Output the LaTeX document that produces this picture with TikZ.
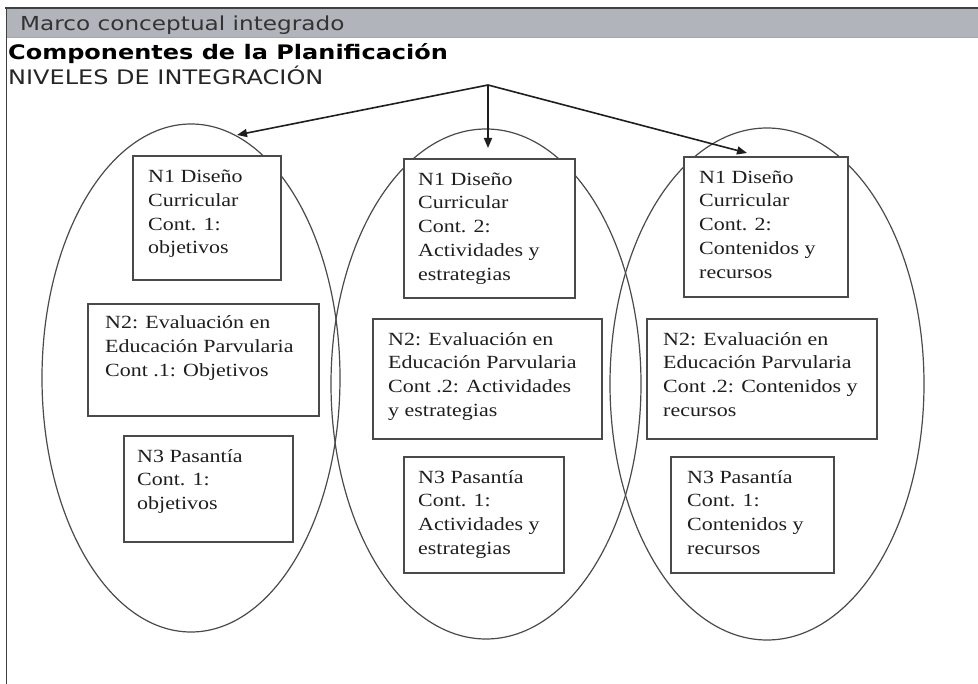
\documentclass[tikz,border=0pt]{standalone}
\usepackage{fontspec}
\setmainfont{Liberation Serif}
\newfontfamily\boxfont[FakeStretch=1.18]{Liberation Serif}
\newfontfamily\hdrfont[FakeStretch=1.2]{DejaVu Sans}
\usetikzlibrary{shapes.geometric,arrows.meta}
\definecolor{hdrgrey}{HTML}{B1B5BB}
\definecolor{inkdark}{HTML}{1E1E1E}
\definecolor{linegrey}{HTML}{4A4A4A}
\tikzset{
  oval/.style={ellipse, draw=linegrey, line width=1.2pt, inner sep=0pt},
  boxnode/.style={rectangle, draw=linegrey, fill=white, line width=1.6pt, inner sep=0pt, anchor=north west},
  txt/.style={anchor=north west, inner sep=0pt, align=left, text=inkdark,
    font=\boxfont\fontsize{18.6}{23.7}\selectfont},
  link/.style={draw=inkdark, line width=1.6pt, -{Triangle[length=10pt,width=8pt]}},
}
\begin{document}
\begin{tikzpicture}[x=1pt,y=-1pt]
\useasboundingbox (0,0) rectangle (978,684);
% header
\fill[hdrgrey] (6,9) rectangle (978,37);
\draw[line width=0.8pt, gray!70] (6,37) -- (978,37);
\draw[line width=2pt, black!75] (5,8.5) -- (978,8.5);
\draw[line width=1.6pt, black!75] (6.5,8) -- (6.5,684);
\node[anchor=base west, inner sep=0pt, text=black!80, font=\hdrfont\fontsize{19.3}{22}\selectfont] (hdr) at (20,31) {Marco conceptual integrado};
\node[anchor=base west, inner sep=0pt, text=black, font=\hdrfont\bfseries\fontsize{20}{23}\selectfont] (ttl) at (8,60) {Componentes de la Planificación};
\node[anchor=base west, inner sep=0pt, text=black!85, font=\hdrfont\fontsize{20}{23}\selectfont] (niv) at (8,85) {NIVELES DE INTEGRACIÓN};
% ellipses
\node[oval, minimum width=298pt, minimum height=508pt] (e1) at (191,378) {};
\node[oval, minimum width=310pt, minimum height=510pt] (e2) at (486,384) {};
\node[oval, minimum width=314pt, minimum height=512pt] (e3) at (767,384) {};
% boxes
\node[boxnode, minimum width=148pt, minimum height=124pt] (l1) at (132,155) {};
\node[boxnode, minimum width=231pt, minimum height=112pt] (l2) at (87,303) {};
\node[boxnode, minimum width=169pt, minimum height=106pt] (l3) at (123,435) {};
\node[boxnode, minimum width=171pt, minimum height=139pt] (m1) at (403,158) {};
\node[boxnode, minimum width=229pt, minimum height=120pt] (m2) at (372,318) {};
\node[boxnode, minimum width=160pt, minimum height=116pt] (m3) at (403,456) {};
\node[boxnode, minimum width=164pt, minimum height=140pt] (r1) at (683,156) {};
\node[boxnode, minimum width=230pt, minimum height=120pt] (r2) at (646,318) {};
\node[boxnode, minimum width=163pt, minimum height=116pt] (r3) at (670,456) {};
% texts
\node[txt] (l1t) at ([xshift=16pt,yshift=-11pt]l1.north west) {\strut N1 Diseño\\Curricular\\Cont. 1:\\objetivos};
\node[txt] (l2t) at ([xshift=18pt,yshift=-9pt]l2.north west) {\strut N2: Evaluación en\\Educación Parvularia\\Cont .1: Objetivos};
\node[txt] (l3t) at ([xshift=14pt,yshift=-10.5pt]l3.north west) {\strut N3 Pasantía\\Cont. 1:\\objetivos};
\node[txt] (m1t) at ([xshift=15pt,yshift=-10.5pt]m1.north west) {\strut N1 Diseño\\Curricular\\Cont. 2:\\Actividades y\\estrategias};
\node[txt] (m2t) at ([xshift=16pt,yshift=-10.5pt]m2.north west) {\strut N2: Evaluación en\\Educación Parvularia\\Cont .2: Actividades\\y estrategias};
\node[txt] (m3t) at ([xshift=15pt,yshift=-10.5pt]m3.north west) {\strut N3 Pasantía\\Cont. 1:\\Actividades y\\estrategias};
\node[txt] (r1t) at ([xshift=16pt,yshift=-10.5pt]r1.north west) {\strut N1 Diseño\\Curricular\\Cont. 2:\\Contenidos y\\recursos};
\node[txt] (r2t) at ([xshift=17pt,yshift=-10.5pt]r2.north west) {\strut N2: Evaluación en\\Educación Parvularia\\Cont .2: Contenidos y\\recursos};
\node[txt] (r3t) at ([xshift=17pt,yshift=-10.5pt]r3.north west) {\strut N3 Pasantía\\Cont. 1:\\Contenidos y\\recursos};
% arrows
\coordinate (src) at (488,85);
\coordinate (t1) at (237,135);
\coordinate (t2) at (488,148);
\coordinate (t3) at (747,153);
\draw[link] (src) -- (t1);
\draw[link] (src) -- (t2);
\draw[link] (src) -- (t3);
\end{tikzpicture}
\end{document}
